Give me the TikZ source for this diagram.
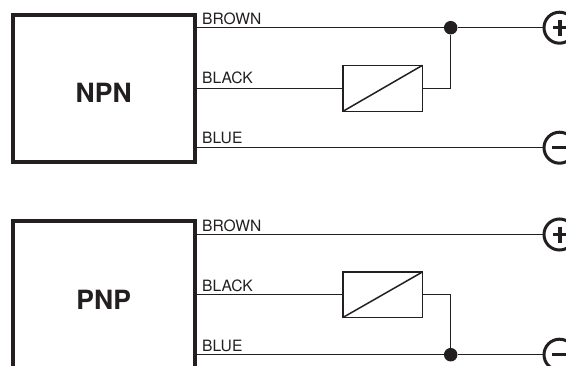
\documentclass[tikz,border=0pt]{standalone}
\usepackage{fontspec}
\setmainfont{TeX Gyre Heros}
\definecolor{ink}{HTML}{231F20}
\tikzset{
  sensorbox/.style={draw=ink,line width=4pt,outer sep=0pt,inner sep=0pt,fill=white},
  wire/.style={draw=ink,line width=1.5pt},
  relaybox/.style={draw=ink,line width=1.5pt,outer sep=0pt,inner sep=0pt,minimum width=79.5pt,fill=white},
  junction/.style={circle,fill=ink,inner sep=0pt,minimum size=13.5pt},
  terminal/.style={circle,draw=ink,line width=3pt,inner sep=0pt,minimum size=31pt,outer sep=0pt,fill=white},
  sign/.style={draw=ink,line width=3.2pt},
  wirelabel/.style={anchor=base west,inner sep=0pt,text=ink,font=\fontsize{15.6}{16}\selectfont},
  typelabel/.style={anchor=base,inner sep=0pt,text=ink,font=\fontsize{26.5}{27}\selectfont\bfseries}
}
\begin{document}
\begin{tikzpicture}[x=1pt,y=-1pt]
\useasboundingbox (0,0) rectangle (566,365);
\clip (0,0) rectangle (566,365);
\fill[white] (0,0) rectangle (566,365);
% NPN
\node[sensorbox,minimum width=181.5pt,minimum height=147.5pt] (nbox) at (103.75,88.25) {};
\node[typelabel] (ntext) at (103.7,102.7) {NPN};
\node[wirelabel] (nl1) at (202,24) {BROWN};
\node[wirelabel] (nl2) at (202,83.7) {BLACK};
\node[wirelabel] (nl3) at (202,143.7) {BLUE};
\coordinate (na) at (nbox.east |- 0,27.7);
\coordinate (nb) at (nbox.east |- 0,88.3);
\coordinate (nc) at (nbox.east |- 0,147.7);
\node[relaybox,minimum height=46pt] (nrelay) at (382.75,88.3) {};
\node[junction] (ndot) at (450.7,27.7) {};
\node[terminal] (nplus) at (559.5,27.7) {};
\node[terminal] (nminus) at (559.5,147.7) {};
\draw[wire] (na) -- (ndot) -- (nplus.west |- ndot);
\draw[wire] (nb) -- (nb -| nrelay.west);
\draw[wire] (nrelay.east) -| (ndot);
\draw[wire] (nc) -- (nc -| nminus.west);
\draw[wire] (nrelay.south west) -- (nrelay.north east);
\draw[sign] (552.5,27.7) -- (566,27.7) (560,20) -- (560,36);
\draw[sign] (552,147.7) -- (566,147.7);
% PNP
\node[sensorbox,minimum width=181.5pt,minimum height=200pt] (pbox) at (103.75,321.3) {};
\node[typelabel] (ptext) at (103.7,309) {PNP};
\node[wirelabel] (pl1) at (202,231) {BROWN};
\node[wirelabel] (pl2) at (202,291) {BLACK};
\node[wirelabel] (pl3) at (202,351) {BLUE};
\coordinate (pa) at (pbox.east |- 0,234.5);
\coordinate (pb) at (pbox.east |- 0,294.7);
\coordinate (pc) at (pbox.east |- 0,354.7);
\node[relaybox,minimum height=45.5pt] (prelay) at (382.75,294.7) {};
\node[junction] (pdot) at (450.7,354.7) {};
\node[terminal] (pplus) at (559.5,234.5) {};
\node[terminal] (pminus) at (559.5,354.7) {};
\draw[wire] (pa) -- (pa -| pplus.west);
\draw[wire] (pb) -- (pb -| prelay.west);
\draw[wire] (prelay.east) -| (pdot);
\draw[wire] (pc) -- (pdot) -- (pminus.west |- pdot);
\draw[wire] (prelay.south west) -- (prelay.north east);
\draw[sign] (552.5,234.5) -- (566,234.5) (560,226.5) -- (560,242.5);
\draw[sign] (552,354.7) -- (566,354.7);
\end{tikzpicture}
\end{document}
